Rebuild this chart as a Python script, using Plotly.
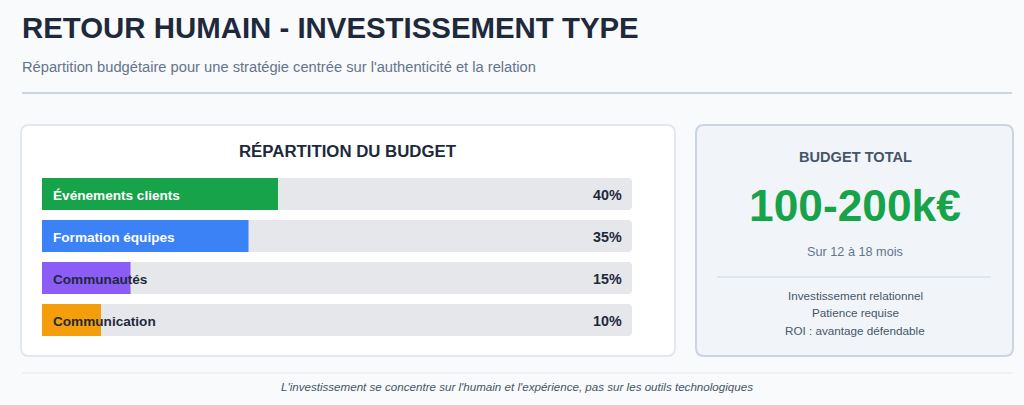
import plotly.graph_objects as go

W, H = 1024, 405

# ---- data ----
categories = ["Événements clients", "Formation équipes", "Communautés", "Communication"]
shares = [40, 35, 15, 10]
bar_colors = ["#16a34a", "#3b82f6", "#8b5cf6", "#f59e0b"]
label_colors = ["#ffffff", "#ffffff", "#1e293b", "#1e293b"]
percent_labels = ["40%", "35%", "15%", "10%"]

title = "RETOUR HUMAIN - INVESTISSEMENT TYPE"
subtitle = "Répartition budgétaire pour une stratégie centrée sur l'authenticité et la relation"
card_title = "RÉPARTITION DU BUDGET"
budget_label = "BUDGET TOTAL"
budget_value = "100-200k€"
budget_period = "Sur 12 à 18 mois"
budget_notes = ["Investissement relationnel", "Patience requise", "ROI : avantage défendable"]
footer = "L'investissement se concentre sur l'humain et l'expérience, pas sur les outils technologiques"

FONT = "Liberation Sans, Arial, Helvetica, sans-serif"


def px(x):
    return x / W


def py(y):
    return 1 - y / H


def rrect(x0, y0, x1, y1, r):
    # pixel coords (top-left origin) -> paper path
    X0, X1 = px(x0), px(x1)
    Y0, Y1 = py(y0), py(y1)
    rx, ry = r / W, r / H
    return (f"M {X0+rx},{Y0} L {X1-rx},{Y0} Q {X1},{Y0} {X1},{Y0-ry} "
            f"L {X1},{Y1+ry} Q {X1},{Y1} {X1-rx},{Y1} L {X0+rx},{Y1} "
            f"Q {X0},{Y1} {X0},{Y1+ry} L {X0},{Y0-ry} Q {X0},{Y0} {X0+rx},{Y0} Z")


fig = go.Figure()

# background tracks
fig.add_trace(go.Bar(
    y=categories, x=[100] * len(categories), orientation="h",
    marker=dict(color="#e5e7eb", line=dict(width=0), cornerradius=4),
    hoverinfo="skip", showlegend=False,
))
# filled shares
fig.add_trace(go.Bar(
    y=categories, x=shares, orientation="h",
    marker=dict(color=bar_colors, line=dict(width=0), cornerradius=4),
    hovertemplate="%{y}: %{x}%<extra></extra>", showlegend=False,
))

bar_top, pitch = 173, 42
n = len(categories)
fig.update_layout(
    width=W, height=H,
    margin=dict(l=0, r=0, t=0, b=0),
    paper_bgcolor="#f8fafc", plot_bgcolor="rgba(0,0,0,0)",
    barmode="overlay", bargap=10 / 42,
    font=dict(family=FONT),
    xaxis=dict(domain=[px(42), px(632)], range=[0, 100], visible=False, fixedrange=True),
    yaxis=dict(domain=[py(bar_top + pitch * n), py(bar_top)], autorange="reversed",
               visible=False, fixedrange=True),
)

shapes = [
    # header divider
    dict(type="line", xref="paper", yref="paper", x0=px(22), x1=px(1012), y0=py(93), y1=py(93),
         line=dict(color="#cbd5e1", width=2), layer="below"),
    # left card
    dict(type="path", xref="paper", yref="paper", path=rrect(21, 125, 675, 356, 8),
         fillcolor="#ffffff", line=dict(color="#e2e8f0", width=2), layer="below"),
    # right card
    dict(type="path", xref="paper", yref="paper", path=rrect(696, 125, 1013, 356, 8),
         fillcolor="#f1f5f9", line=dict(color="#cbd5e1", width=2), layer="below"),
    # right card divider
    dict(type="line", xref="paper", yref="paper", x0=px(717), x1=px(991), y0=py(277), y1=py(277),
         line=dict(color="#cbd5e1", width=1), layer="below"),
    # footer divider
    dict(type="line", xref="paper", yref="paper", x0=px(22), x1=px(1012), y0=py(373), y1=py(373),
         line=dict(color="#e2e8f0", width=1), layer="below"),
]

ann = []


def text(x, y, s, size, color, bold=False, italic=False, xanchor="left"):
    if bold:
        s = f"<b>{s}</b>"
    if italic:
        s = f"<i>{s}</i>"
    ann.append(dict(x=px(x), y=py(y), xref="paper", yref="paper", text=s, showarrow=False,
                    xanchor=xanchor, yanchor="middle",
                    font=dict(size=size, color=color, family=FONT)))


text(20, 28, title, 29.4, "#1e293b", bold=True)
text(20, 67, subtitle, 14.7, "#64748b")
text(348, 151, card_title, 16.8, "#1e293b", bold=True, xanchor="center")

for cat, lc, pl in zip(categories, label_colors, percent_labels):
    ann.append(dict(x=0, y=cat, xref="x", yref="y", text=f"<b>{cat}</b>", showarrow=False,
                    xanchor="left", yanchor="middle", xshift=9, yshift=-1,
                    font=dict(size=13.6, color=lc, family=FONT)))
    ann.append(dict(x=100, y=cat, xref="x", yref="y", text=f"<b>{pl}</b>", showarrow=False,
                    xanchor="right", yanchor="middle", xshift=-8, yshift=-1,
                    font=dict(size=14.3, color="#1e293b", family=FONT)))

text(855, 157, budget_label, 14.6, "#475569", bold=True, xanchor="center")
text(855, 205, budget_value, 44.3, "#16a34a", bold=True, xanchor="center")
text(855, 252, budget_period, 12.7, "#64748b", xanchor="center")
for i, note in enumerate(budget_notes):
    text(855, 295 + 17.5 * i, note, 11.7, "#475569", xanchor="center")

text(517, 386, footer, 11.6, "#475569", italic=True, xanchor="center")

fig.update_layout(shapes=shapes, annotations=ann)
fig.write_html("out.html", config=dict(displayModeBar=False))
